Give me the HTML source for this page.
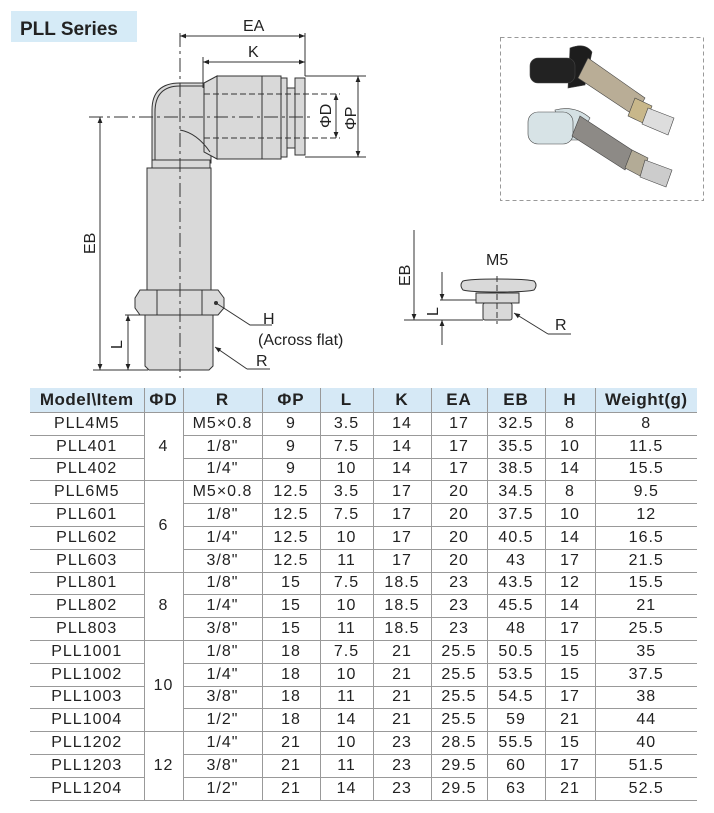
<!DOCTYPE html>
<html><head><meta charset="utf-8"><style>
body{margin:0;background:#fff;width:714px;height:813px;position:relative;overflow:hidden;font-family:"Liberation Sans",sans-serif;}
svg{position:absolute;left:0;top:0}
table{position:absolute;left:30px;top:388px;border-collapse:collapse;table-layout:fixed;width:667px;font-size:16px;letter-spacing:1px;color:#222}
td,th{border:1px solid #999;text-align:center;padding:0;height:21.8px;line-height:20px;white-space:nowrap}
th{background:#d6e9f6;font-weight:bold;height:24px;border-top:none;font-size:17px}
tr td:first-child,tr th:first-child{border-left:none}
tr td:last-child,tr th:last-child{border-right:none}
</style></head><body>
<svg width="714" height="813" viewBox="0 0 714 813" font-family="Liberation Sans, sans-serif">
<defs><marker id="a" viewBox="0 0 10 10" refX="10" refY="5" markerWidth="8" markerHeight="6" orient="auto-start-reverse"><path d="M0,1 L10,5 L0,9 z" fill="#222"/></marker></defs>
<rect x="11" y="11" width="126" height="31" fill="#d6ebf7"/>
<text x="20" y="35" font-size="19" font-weight="bold" fill="#222">PLL Series</text>
<g stroke="#333" stroke-width="1" fill="#d9d9d9">
<path d="M152,163 L152,110 Q152,83 180,83 L211,83 L211,163 Z"/>
<path d="M204,83 L217,76 L217,159 L204,152 Z"/>
<rect x="217" y="76" width="45" height="83"/>
<rect x="262" y="76" width="19" height="83"/>
<rect x="281" y="78" width="6" height="79"/>
<rect x="287" y="88" width="8" height="60"/>
<rect x="295" y="78" width="10" height="77"/>
<rect x="152" y="160" width="58" height="8"/>
<rect x="147" y="168" width="64" height="122"/>
<path d="M140,290 L218,290 L224,298 L224,308 L218,315 L140,315 L135,308 L135,298 Z"/>
<line x1="157" y1="290" x2="157" y2="315"/><line x1="202" y1="290" x2="202" y2="315"/>
<path d="M145,315 L213,315 L213,366 L209,370 L149,370 L145,366 Z"/>
</g>
<g stroke="#333" stroke-width="1" fill="none">
<path d="M155,160 L155,112 Q155,86 180,86 L204,86"/>
<path d="M180,130 Q197,133 210,152"/>
<line x1="180" y1="33" x2="180" y2="378" stroke-dasharray="14,4,3,4"/>
<line x1="89" y1="117" x2="312" y2="117" stroke-dasharray="14,4,3,4"/>
<path d="M204,94 L340,94 M204,138 L340,138 M204,94 L204,138" stroke-dasharray="6,3"/>
<line x1="305" y1="33" x2="305" y2="76"/>
<line x1="203" y1="57" x2="203" y2="88"/>
<line x1="180" y1="36" x2="305" y2="36" marker-start="url(#a)" marker-end="url(#a)"/>
<line x1="203" y1="62" x2="305" y2="62" marker-start="url(#a)" marker-end="url(#a)"/>
<line x1="305" y1="76" x2="366" y2="76"/><line x1="305" y1="157" x2="366" y2="157"/>
<line x1="336" y1="94" x2="336" y2="138" marker-start="url(#a)" marker-end="url(#a)"/>
<line x1="358" y1="76" x2="358" y2="157" marker-start="url(#a)" marker-end="url(#a)"/>
<line x1="100" y1="117" x2="100" y2="370" marker-start="url(#a)" marker-end="url(#a)"/>
<line x1="93" y1="370" x2="148" y2="370"/><line x1="125" y1="315" x2="147" y2="315"/>
<line x1="128" y1="315" x2="128" y2="370" marker-start="url(#a)" marker-end="url(#a)"/>
<path d="M216,303 L250,325 L272,325"/>
<line x1="247" y1="369" x2="215" y2="347" marker-end="url(#a)"/><line x1="247" y1="369" x2="270" y2="369"/>
</g>
<circle cx="216" cy="303" r="2" fill="#333"/>
<g font-size="16" fill="#222">
<text x="243" y="31">EA</text><text x="248" y="57">K</text>
<text x="263" y="324">H</text><text x="258" y="345">(Across flat)</text><text x="256" y="366">R</text>
<text transform="translate(331,128) rotate(-90)">ΦD</text>
<text transform="translate(356,130) rotate(-90)">ΦP</text>
<text transform="translate(95,254) rotate(-90)">EB</text>
<text transform="translate(122,349) rotate(-90)">L</text>
</g>
<rect x="500.5" y="37.5" width="203" height="163" fill="none" stroke="#999" stroke-dasharray="4,3"/>
<g stroke="#444" stroke-width="0.6">
<path d="M570,48 Q585,42 592,52 L585,85 L568,88 Z" fill="#1d1d1d"/>
<rect x="530" y="58" width="45" height="25" rx="8" fill="#222"/>
<path d="M588,58 L645,98 L635,116 L578,78 Z" fill="#b9ad96"/>
<path d="M635,98 L652,106 L645,124 L628,116 Z" fill="#c8b78a"/>
<path d="M648,108 L674,118 L668,135 L642,124 Z" fill="#ddd"/>
<path d="M555,110 Q575,105 590,118 L578,140 L560,140 Z" fill="#d4e0e3"/>
<rect x="528" y="112" width="45" height="32" rx="10" fill="#d7e3e6"/>
<path d="M580,116 L635,152 L625,170 L572,136 Z" fill="#8d8a86"/>
<path d="M632,150 L648,158 L642,177 L625,168 Z" fill="#b3ab96"/>
<path d="M645,160 L672,170 L666,187 L640,177 Z" fill="#ccc"/>
</g>
<g stroke="#333" stroke-width="1" fill="#d9d9d9">
<path d="M463,281 Q470,279 498,279 Q527,279 534,281 Q538,285 534,290 Q527,292 498,292 Q470,292 463,290 Q459,285 463,281 Z"/>
<rect x="476" y="293" width="43" height="10"/>
<rect x="483" y="303" width="29" height="17" rx="2"/>
</g>
<g stroke="#333" stroke-width="1" fill="none">
<line x1="497" y1="276" x2="497" y2="324" stroke-dasharray="6,3"/>
<line x1="414" y1="230" x2="414" y2="320" marker-end="url(#a)"/>
<line x1="404" y1="320" x2="483" y2="320"/><line x1="440" y1="300" x2="476" y2="300"/>
<line x1="442" y1="272" x2="442" y2="300" marker-end="url(#a)"/>
<line x1="442" y1="345" x2="442" y2="320" marker-end="url(#a)"/>
<path d="M548,334 L571,334"/><line x1="548" y1="334" x2="514" y2="313" marker-end="url(#a)"/>
</g>
<g font-size="16" fill="#222">
<text x="486" y="265">M5</text><text x="555" y="330">R</text>
<text transform="translate(410,286) rotate(-90)">EB</text>
<text transform="translate(438,316) rotate(-90)">L</text>
</g>
</svg>
<table>
<colgroup><col style="width:114px"><col style="width:39px"><col style="width:79px"><col style="width:58px"><col style="width:53px"><col style="width:58px"><col style="width:56px"><col style="width:58px"><col style="width:50px"><col style="width:102px"></colgroup>
<tr><th style="letter-spacing:0.5px">Model\Item</th><th>ΦD</th><th>R</th><th>ΦP</th><th>L</th><th>K</th><th>EA</th><th>EB</th><th>H</th><th style="letter-spacing:0.5px">Weight(g)</th></tr>
<tr><td>PLL4M5</td><td rowspan="3">4</td><td>M5×0.8</td><td>9</td><td>3.5</td><td>14</td><td>17</td><td>32.5</td><td>8</td><td>8</td></tr>
<tr><td>PLL401</td><td>1/8"</td><td>9</td><td>7.5</td><td>14</td><td>17</td><td>35.5</td><td>10</td><td>11.5</td></tr>
<tr><td>PLL402</td><td>1/4"</td><td>9</td><td>10</td><td>14</td><td>17</td><td>38.5</td><td>14</td><td>15.5</td></tr>
<tr><td>PLL6M5</td><td rowspan="4">6</td><td>M5×0.8</td><td>12.5</td><td>3.5</td><td>17</td><td>20</td><td>34.5</td><td>8</td><td>9.5</td></tr>
<tr><td>PLL601</td><td>1/8"</td><td>12.5</td><td>7.5</td><td>17</td><td>20</td><td>37.5</td><td>10</td><td>12</td></tr>
<tr><td>PLL602</td><td>1/4"</td><td>12.5</td><td>10</td><td>17</td><td>20</td><td>40.5</td><td>14</td><td>16.5</td></tr>
<tr><td>PLL603</td><td>3/8"</td><td>12.5</td><td>11</td><td>17</td><td>20</td><td>43</td><td>17</td><td>21.5</td></tr>
<tr><td>PLL801</td><td rowspan="3">8</td><td>1/8"</td><td>15</td><td>7.5</td><td>18.5</td><td>23</td><td>43.5</td><td>12</td><td>15.5</td></tr>
<tr><td>PLL802</td><td>1/4"</td><td>15</td><td>10</td><td>18.5</td><td>23</td><td>45.5</td><td>14</td><td>21</td></tr>
<tr><td>PLL803</td><td>3/8"</td><td>15</td><td>11</td><td>18.5</td><td>23</td><td>48</td><td>17</td><td>25.5</td></tr>
<tr><td>PLL1001</td><td rowspan="4">10</td><td>1/8"</td><td>18</td><td>7.5</td><td>21</td><td>25.5</td><td>50.5</td><td>15</td><td>35</td></tr>
<tr><td>PLL1002</td><td>1/4"</td><td>18</td><td>10</td><td>21</td><td>25.5</td><td>53.5</td><td>15</td><td>37.5</td></tr>
<tr><td>PLL1003</td><td>3/8"</td><td>18</td><td>11</td><td>21</td><td>25.5</td><td>54.5</td><td>17</td><td>38</td></tr>
<tr><td>PLL1004</td><td>1/2"</td><td>18</td><td>14</td><td>21</td><td>25.5</td><td>59</td><td>21</td><td>44</td></tr>
<tr><td>PLL1202</td><td rowspan="3">12</td><td>1/4"</td><td>21</td><td>10</td><td>23</td><td>28.5</td><td>55.5</td><td>15</td><td>40</td></tr>
<tr><td>PLL1203</td><td>3/8"</td><td>21</td><td>11</td><td>23</td><td>29.5</td><td>60</td><td>17</td><td>51.5</td></tr>
<tr><td>PLL1204</td><td>1/2"</td><td>21</td><td>14</td><td>23</td><td>29.5</td><td>63</td><td>21</td><td>52.5</td></tr>
</table>
</body></html>
